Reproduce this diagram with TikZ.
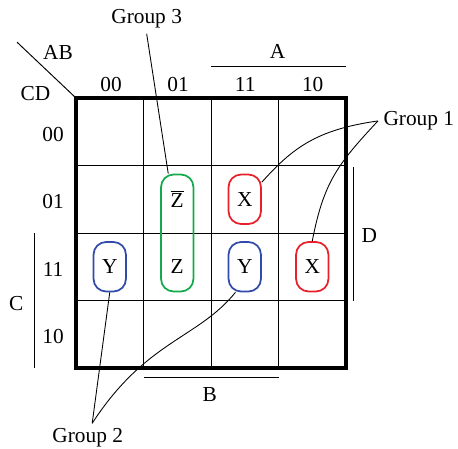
\documentclass[tikz,border=0pt]{standalone}
\usepackage{fontspec}
\setmainfont{Liberation Serif}
\definecolor{grpred}{RGB}{232,32,42}
\definecolor{grpgreen}{RGB}{20,170,75}
\definecolor{grpblue}{RGB}{50,75,170}
\begin{document}
\begin{tikzpicture}[
    every node/.style={font=\fontsize{13.5}{16}\selectfont},
    loop/.style={draw, line width=1.1pt, rounded corners=0.28cm,
        minimum width=0.72cm, minimum height=1.1cm, inner sep=0pt},
    lead/.style={line width=0.55pt},
    bar/.style={line width=0.6pt}]
    \useasboundingbox (-1.689,-1.8) rectangle (8.489,8.178);

    % map grid
    \draw[line width=2pt] (0,0) rectangle (6,6);
    \draw[bar] (1.5,0) -- (1.5,6); \draw[bar] (3,0) -- (3,6);
    \draw[bar] (4.5,0) -- (4.5,6); \draw[bar] (0,1.5) -- (6,1.5);
    \draw[bar] (0,3) -- (6,3); \draw[bar] (0,4.5) -- (6,4.5);
    \draw[bar] (-1.31,7.24) -- (0,6);
    \node (ab) at (-0.4,7.02) {AB}; \node (cd) at (-0.9,6.11) {CD};

    % column and row headings
    \node (c00) at (0.78,6.31) {00}; \node (c01) at (2.27,6.31) {01};
    \node (c11) at (3.76,6.31) {11}; \node (c10) at (5.26,6.31) {10};
    \node (r00) at (-0.51,5.19) {00}; \node (r01) at (-0.51,3.71) {01};
    \node (r11) at (-0.51,2.2) {11}; \node (r10) at (-0.51,0.71) {10};

    % variable bars
    \draw[bar] (3,6.71) -- (6,6.71); \node (la) at (4.48,7.03) {A};
    \draw[bar] (1.5,-0.2) -- (4.5,-0.2); \node (lb) at (2.97,-0.6) {B};
    \draw[bar] (-0.93,0) -- (-0.93,3); \node (lc) at (-1.33,1.44) {C};
    \draw[bar] (6.17,1.5) -- (6.17,4.47); \node (ld) at (6.52,2.94) {D};

    % groups (cells)
    \node[loop, grpred] (x1) at (3.75,3.75) {\color{black}X};
    \node[loop, grpred] (x2) at (5.25,2.25) {\color{black}X};
    \node[loop, grpblue] (y1) at (0.75,2.25) {\color{black}Y};
    \node[loop, grpblue] (y2) at (3.75,2.25) {\color{black}Y};
    \node[loop, grpgreen, minimum height=2.6cm] (z) at (2.25,3) {};
    \node (zbar) at (2.25,3.75) {$\overline{\hbox{Z}}$};
    \node (zlow) at (2.25,2.25) {Z};

    % group labels and leaders
    \node[anchor=west] (g1) at (6.71,5.49) {Group 1};
    \node (g2) at (0.26,-1.56) {Group 2};
    \node (g3) at (1.57,7.76) {Group 3};
    \draw[lead] (g1.west) .. controls +(188:1.4) and +(48:1.0) .. (x1.45);
    \draw[lead] (g1.west) .. controls +(227:1.33) and +(79:1.33) .. (x2.north);
    \draw[lead] ([xshift=0.1cm]g2.north) -- (y1.south);
    \draw[lead] ([xshift=0.1cm]g2.north) .. controls +(57:2.2) and +(231:1.33) .. (y2.-110);
    \draw[lead] (g3.south) -- ([xshift=-0.2cm]z.north);
\end{tikzpicture}
\end{document}
